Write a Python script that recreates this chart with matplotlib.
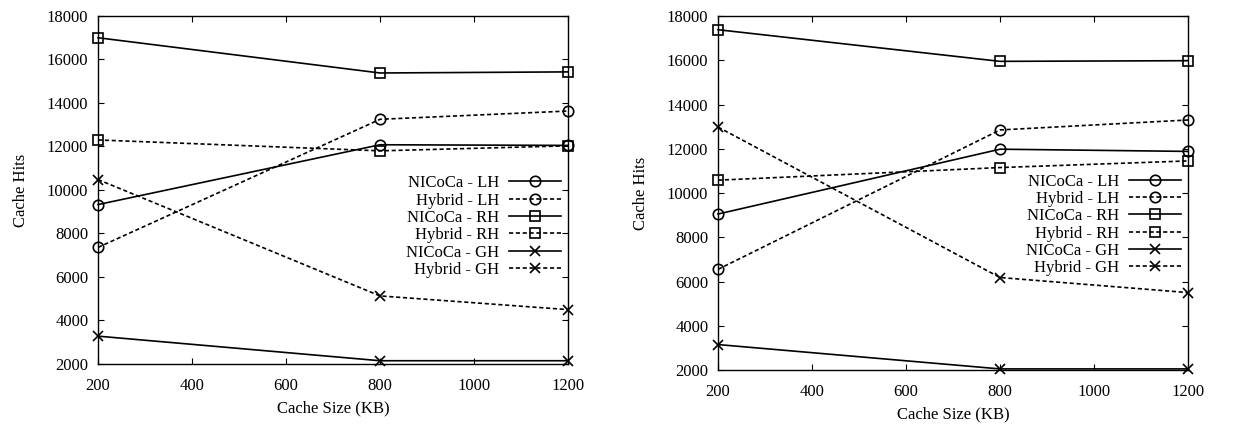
import matplotlib
matplotlib.use("Agg")
import matplotlib.pyplot as plt

plt.rcParams["font.family"] = ["Liberation Serif", "DejaVu Serif"]
plt.rcParams["font.size"] = 12

# Cache sizes (KB) on the x axis
cache_kb = [200, 800, 1200]

# Left experiment
left_nicoca_lh = [9330, 12080, 12050]
left_hybrid_lh = [7360, 13250, 13630]
left_nicoca_rh = [17000, 15380, 15430]
left_hybrid_rh = [12300, 11800, 12030]
left_nicoca_gh = [3280, 2150, 2150]
left_hybrid_gh = [10480, 5130, 4500]

# Right experiment
right_nicoca_lh = [9050, 11980, 11880]
right_hybrid_lh = [6550, 12850, 13300]
right_nicoca_rh = [17380, 15950, 15980]
right_hybrid_rh = [10580, 11150, 11450]
right_nicoca_gh = [3150, 2050, 2050]
right_hybrid_gh = [12980, 6180, 5500]

labels = ["NICoCa - LH", "Hybrid - LH", "NICoCa - RH",
          "Hybrid - RH", "NICoCa - GH", "Hybrid - GH"]
markers = ["o", "o", "s", "s", "x", "x"]
dashed = (0, (2.5, 1.6))
styles = ["-", dashed, "-", dashed, "-", dashed]

fig = plt.figure(figsize=(12.38, 4.30), dpi=100)
ax_l = fig.add_axes([0.0792, 0.1535, 0.3796, 0.8093])
ax_r = fig.add_axes([0.5800, 0.1395, 0.3796, 0.8233])

panels = [
    (ax_l, [left_nicoca_lh, left_hybrid_lh, left_nicoca_rh,
            left_hybrid_rh, left_nicoca_gh, left_hybrid_gh], 0.395),
    (ax_r, [right_nicoca_lh, right_hybrid_lh, right_nicoca_rh,
            right_hybrid_rh, right_nicoca_gh, right_hybrid_gh], 0.41),
]

for ax, series, leg_y in panels:
    for vals, lab, mk, ls in zip(series, labels, markers, styles):
        ax.plot(cache_kb, vals, color="black", linestyle=ls, linewidth=1.2,
                marker=mk, markersize=7.5, markerfacecolor="none",
                markeredgewidth=1.2, label=lab, clip_on=False)
    ax.set_xlim(200, 1200)
    ax.set_ylim(2000, 18000)
    ax.set_xticks(range(200, 1201, 200))
    ax.set_yticks(range(2000, 18001, 2000))
    ax.tick_params(direction="in", top=True, right=True, length=4,
                   width=0.8, labelsize=12)
    ax.tick_params(axis="x", pad=10)
    ax.tick_params(axis="y", pad=7)
    for sp in ax.spines.values():
        sp.set_linewidth(1.0)
    ax.set_xlabel("Cache Size (KB)", fontsize=12, labelpad=5)
    ax.set_ylabel("Cache Hits", fontsize=12, labelpad=13)
    ax.legend(loc="center right", bbox_to_anchor=(1.0, leg_y),
              frameon=False, markerfirst=False, handlelength=3.1,
              handletextpad=0.6, labelspacing=0.08, borderaxespad=0.02,
              fontsize=12)

fig.savefig("out.png", dpi=100)
